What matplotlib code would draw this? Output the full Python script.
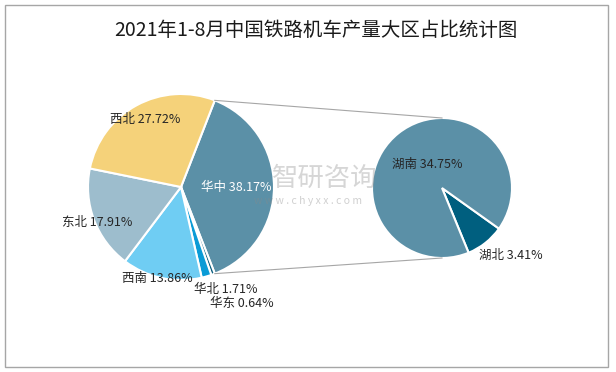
import matplotlib
matplotlib.use("Agg")
import matplotlib.pyplot as plt
import numpy as np

plt.rcParams['font.family'] = ['Noto Sans CJK SC', 'DejaVu Sans']

# datos del grafico principal (por region)
regiones = ['华中', '华东', '华北', '西南', '东北', '西北']
porcentajes = [38.17, 0.64, 1.71, 13.86, 17.91, 27.72]
colores = ['#5b90a7', '#0b5e7e', '#0a9bd6', '#6fcdf3', '#9dbdcd', '#f5d27a']

# desglose de 华中
provincias = ['湖北', '湖南']
porc_prov = [3.41, 34.75]
colores_prov = ['#005f7f', '#5b90a7']

titulo = '2021年1-8月中国铁路机车产量大区占比统计图'

W, H = 616, 372
fig = plt.figure(figsize=(W / 100, H / 100), dpi=100)
ax = fig.add_axes([0, 0, 1, 1])

# pastel izquierdo
c1 = (181, H - 187)
r1 = 93
inicio = porcentajes[0] / 100 * 360 / 2
ax.pie(porcentajes, colors=colores, center=c1, radius=r1, startangle=inicio,
       counterclock=False, wedgeprops=dict(edgecolor='white', linewidth=1.5))

# pastel derecho
c2 = (442, H - 188)
r2 = 70
ax.pie(porc_prov, colors=colores_prov, center=c2, radius=r2, startangle=-35.5,
       counterclock=False, wedgeprops=dict(edgecolor='white', linewidth=1.5))

# lineas de union
a = np.deg2rad(inicio)
ax.plot([c1[0] + r1 * np.cos(a), c2[0]], [c1[1] + r1 * np.sin(a), c2[1] + r2],
        color='#a6a6a6', lw=0.8)
ax.plot([c1[0] + r1 * np.cos(a), c2[0]], [c1[1] - r1 * np.sin(a), c2[1] - r2],
        color='#a6a6a6', lw=0.8)

ax.set_xlim(0, W)
ax.set_ylim(0, H)
ax.axis('off')

# marca de agua
ax.text(325, H - 178, '智研咨询', fontsize=19, color='#8a8a8a', alpha=0.35,
        ha='center', va='center')
ax.text(308, H - 201, 'w w w . c h y x x . c o m', fontsize=7.5, color='#8a8a8a',
        alpha=0.4, ha='center', va='center')

# etiquetas
fs = 9
etiquetas = {
    '华中': (236, 187, 'white'),
    '西北': (145, 119, '#262626'),
    '东北': (97, 222, '#262626'),
    '西南': (157, 278, '#262626'),
    '华北': (226, 289, '#262626'),
    '华东': (242, 303, '#262626'),
}
for reg, val in zip(regiones, porcentajes):
    x, y, col = etiquetas[reg]
    ax.text(x, H - y, f'{reg} {val:.2f}%', fontsize=fs, color=col,
            ha='center', va='center')

pos_prov = {'湖南': (427, 164), '湖北': (511, 255)}
for prov, val in zip(provincias, porc_prov):
    x, y = pos_prov[prov]
    ax.text(x, H - y, f'{prov} {val:.2f}%', fontsize=fs, color='#262626',
            ha='center', va='center')

ax.text(316, H - 30, titulo, fontsize=14, color='#1a1a1a',
        ha='center', va='center')

# marco
fig.patches.append(plt.Rectangle((5 / W, 5 / H), 603 / W, 362 / H,
                                 transform=fig.transFigure, fill=False,
                                 edgecolor='#a6a6a6', lw=1))

fig.savefig('out.png', dpi=100)
